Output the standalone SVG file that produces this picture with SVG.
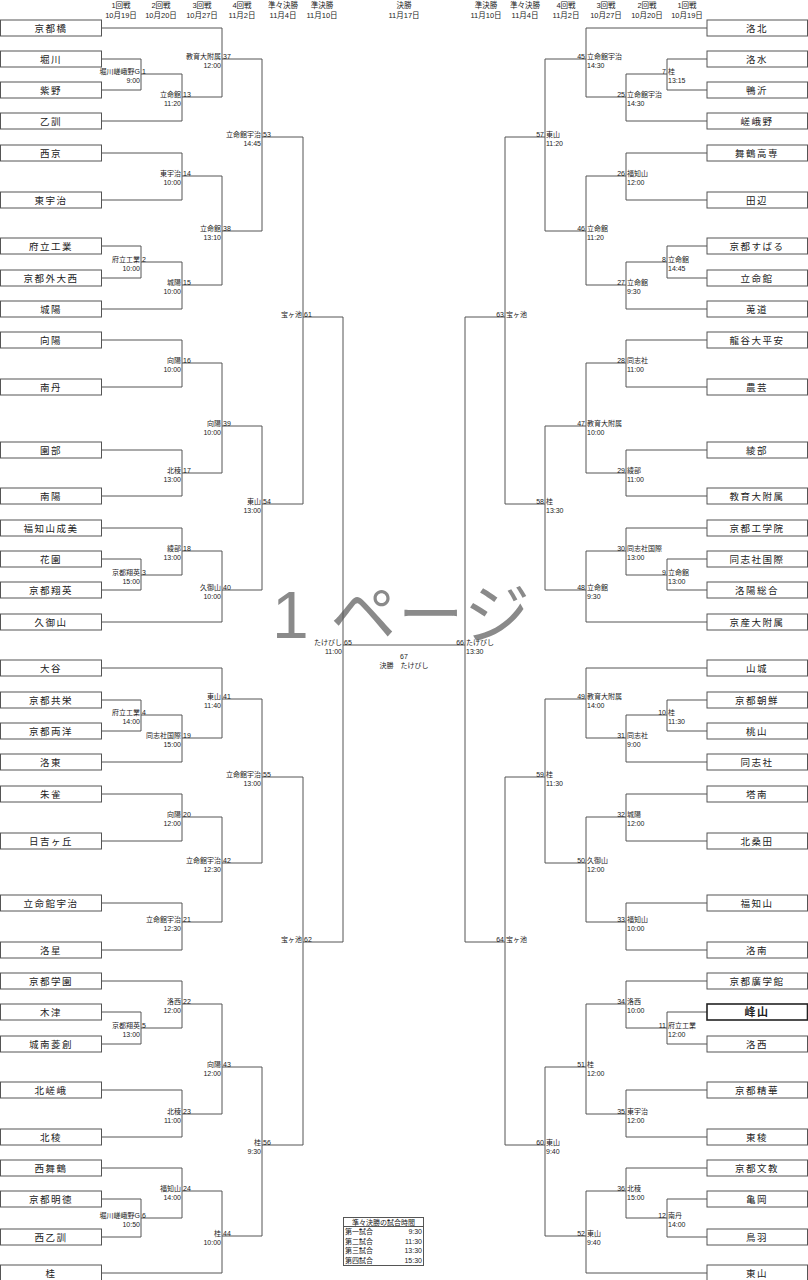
<svg xmlns="http://www.w3.org/2000/svg" width="808" height="1280" viewBox="0 0 808 1280">
<style>
text{font-family:"Liberation Sans","Noto Sans CJK JP",sans-serif;fill:#222}
.b rect{fill:#fff;stroke:#555;stroke-width:1}
.b text{font-size:9.5px;text-anchor:middle;letter-spacing:1.5px}
.h{font-size:7.5px;text-anchor:middle}
.m{font-size:7px}
.e{text-anchor:end}
#conn path{fill:none;stroke:#555;stroke-width:1}
.wm{font-size:66px;fill:#8a8a8a;text-anchor:middle}
</style>
<g id="headers">
<text class="h" x="121" y="8">1回戦</text><text class="h" x="121" y="18">10月19日</text>
<text class="h" x="161" y="8">2回戦</text><text class="h" x="161" y="18">10月20日</text>
<text class="h" x="202" y="8">3回戦</text><text class="h" x="202" y="18">10月27日</text>
<text class="h" x="242" y="8">4回戦</text><text class="h" x="242" y="18">11月2日</text>
<text class="h" x="283" y="8">準々決勝</text><text class="h" x="283" y="18">11月4日</text>
<text class="h" x="322" y="8">準決勝</text><text class="h" x="322" y="18">11月10日</text>
<text class="h" x="404" y="8">決勝</text><text class="h" x="404" y="18">11月17日</text>
<text class="h" x="486" y="8">準決勝</text><text class="h" x="486" y="18">11月10日</text>
<text class="h" x="525" y="8">準々決勝</text><text class="h" x="525" y="18">11月4日</text>
<text class="h" x="566" y="8">4回戦</text><text class="h" x="566" y="18">11月2日</text>
<text class="h" x="606" y="8">3回戦</text><text class="h" x="606" y="18">10月27日</text>
<text class="h" x="647" y="8">2回戦</text><text class="h" x="647" y="18">10月20日</text>
<text class="h" x="687" y="8">1回戦</text><text class="h" x="687" y="18">10月19日</text>
</g>
<text class="wm" x="401" y="638" textLength="258">1 ページ</text>
<g id="conn">
<path d="M101 59H141V90H101"/><path d="M141 74H182V121H101"/><path d="M101 28H222V97H182"/>
<path d="M101 153H182V200H101"/><path d="M101 246H141V278H101"/><path d="M141 262H182V309H101"/>
<path d="M182 176H222V285H182"/><path d="M222 59H262V231H222"/>
<path d="M101 340H182V387H101"/><path d="M101 450H182V496H101"/><path d="M182 363H222V473H182"/>
<path d="M101 559H141V590H101"/><path d="M101 528H182V575H141"/><path d="M182 551H222V622H101"/>
<path d="M222 426H262V590H222"/><path d="M262 137H303V504H262"/>
<path d="M101 700H141V731H101"/><path d="M141 715H182V762H101"/><path d="M101 668H222V738H182"/>
<path d="M101 794H182V841H101"/><path d="M101 903H182V950H101"/><path d="M182 817H222V922H182"/>
<path d="M222 699H262V863H222"/>
<path d="M101 1012H141V1044H101"/><path d="M101 981H182V1028H141"/><path d="M101 1090H182V1137H101"/>
<path d="M182 1004H222V1114H182"/><path d="M101 1199H141V1237H101"/><path d="M101 1168H182V1218H141"/>
<path d="M182 1191H222V1273H101"/><path d="M222 1067H262V1236H222"/><path d="M262 777H303V1145H262"/>
<path d="M303 317H343V942H303"/>
<path d="M343 645H465"/>
<path d="M707 59H667V90H707"/><path d="M667 74H626V121H707"/><path d="M707 28H586V97H626"/>
<path d="M707 153H626V200H707"/><path d="M707 246H667V278H707"/><path d="M667 262H626V309H707"/>
<path d="M626 176H586V285H626"/><path d="M586 59H545V231H586"/>
<path d="M707 340H626V387H707"/><path d="M707 450H626V496H707"/><path d="M626 363H586V473H626"/>
<path d="M707 559H667V590H707"/><path d="M707 528H626V575H667"/><path d="M626 551H586V622H707"/>
<path d="M586 426H545V590H586"/><path d="M545 137H505V504H545"/>
<path d="M707 700H667V731H707"/><path d="M667 715H626V762H707"/><path d="M707 668H586V738H626"/>
<path d="M707 794H626V841H707"/><path d="M707 903H626V950H707"/><path d="M626 817H586V922H626"/>
<path d="M586 699H545V863H586"/>
<path d="M707 1012H667V1044H707"/><path d="M707 981H626V1028H667"/><path d="M707 1090H626V1137H707"/>
<path d="M626 1004H586V1114H626"/><path d="M707 1199H667V1237H707"/><path d="M707 1168H626V1218H667"/>
<path d="M626 1191H586V1273H707"/><path d="M586 1067H545V1236H586"/><path d="M545 777H505V1145H545"/>
<path d="M505 317H465V942H505"/>
</g>
<g id="teams-left" class="b">
<g id="t-l1"><rect x="0.5" y="20" width="101" height="16"/><text x="51" y="31.5">京都橋</text></g>
<g id="t-l2"><rect x="0.5" y="51" width="101" height="16"/><text x="51" y="62.5">堀川</text></g>
<g id="t-l3"><rect x="0.5" y="82" width="101" height="16"/><text x="51" y="93.5">紫野</text></g>
<g id="t-l4"><rect x="0.5" y="113" width="101" height="16"/><text x="51" y="124.5">乙訓</text></g>
<g id="t-l5"><rect x="0.5" y="145" width="101" height="16"/><text x="51" y="156.5">西京</text></g>
<g id="t-l6"><rect x="0.5" y="192" width="101" height="16"/><text x="51" y="203.5">東宇治</text></g>
<g id="t-l7"><rect x="0.5" y="238" width="101" height="16"/><text x="51" y="249.5">府立工業</text></g>
<g id="t-l8"><rect x="0.5" y="270" width="101" height="16"/><text x="51" y="281.5">京都外大西</text></g>
<g id="t-l9"><rect x="0.5" y="301" width="101" height="16"/><text x="51" y="312.5">城陽</text></g>
<g id="t-l10"><rect x="0.5" y="332" width="101" height="16"/><text x="51" y="343.5">向陽</text></g>
<g id="t-l11"><rect x="0.5" y="379" width="101" height="16"/><text x="51" y="390.5">南丹</text></g>
<g id="t-l12"><rect x="0.5" y="442" width="101" height="16"/><text x="51" y="453.5">園部</text></g>
<g id="t-l13"><rect x="0.5" y="488" width="101" height="16"/><text x="51" y="499.5">南陽</text></g>
<g id="t-l14"><rect x="0.5" y="520" width="101" height="16"/><text x="51" y="531.5">福知山成美</text></g>
<g id="t-l15"><rect x="0.5" y="551" width="101" height="16"/><text x="51" y="562.5">花園</text></g>
<g id="t-l16"><rect x="0.5" y="582" width="101" height="16"/><text x="51" y="593.5">京都翔英</text></g>
<g id="t-l17"><rect x="0.5" y="614" width="101" height="16"/><text x="51" y="625.5">久御山</text></g>
<g id="t-l18"><rect x="0.5" y="660" width="101" height="16"/><text x="51" y="671.5">大谷</text></g>
<g id="t-l19"><rect x="0.5" y="692" width="101" height="16"/><text x="51" y="703.5">京都共栄</text></g>
<g id="t-l20"><rect x="0.5" y="723" width="101" height="16"/><text x="51" y="734.5">京都両洋</text></g>
<g id="t-l21"><rect x="0.5" y="754" width="101" height="16"/><text x="51" y="765.5">洛東</text></g>
<g id="t-l22"><rect x="0.5" y="786" width="101" height="16"/><text x="51" y="797.5">朱雀</text></g>
<g id="t-l23"><rect x="0.5" y="833" width="101" height="16"/><text x="51" y="844.5">日吉ヶ丘</text></g>
<g id="t-l24"><rect x="0.5" y="895" width="101" height="16"/><text x="51" y="906.5">立命館宇治</text></g>
<g id="t-l25"><rect x="0.5" y="942" width="101" height="16"/><text x="51" y="953.5">洛星</text></g>
<g id="t-l26"><rect x="0.5" y="973" width="101" height="16"/><text x="51" y="984.5">京都学園</text></g>
<g id="t-l27"><rect x="0.5" y="1004" width="101" height="16"/><text x="51" y="1015.5">木津</text></g>
<g id="t-l28"><rect x="0.5" y="1036" width="101" height="16"/><text x="51" y="1047.5">城南菱創</text></g>
<g id="t-l29"><rect x="0.5" y="1082" width="101" height="16"/><text x="51" y="1093.5">北嵯峨</text></g>
<g id="t-l30"><rect x="0.5" y="1129" width="101" height="16"/><text x="51" y="1140.5">北稜</text></g>
<g id="t-l31"><rect x="0.5" y="1160" width="101" height="16"/><text x="51" y="1171.5">西舞鶴</text></g>
<g id="t-l32"><rect x="0.5" y="1191" width="101" height="16"/><text x="51" y="1202.5">京都明徳</text></g>
<g id="t-l33"><rect x="0.5" y="1229" width="101" height="16"/><text x="51" y="1240.5">西乙訓</text></g>
<g id="t-l34"><rect x="0.5" y="1265" width="101" height="16"/><text x="51" y="1276.5">桂</text></g>
</g>
<g id="teams-right" class="b">
<g id="t-r1"><rect x="707" y="20" width="100.5" height="16"/><text x="757" y="31.5">洛北</text></g>
<g id="t-r2"><rect x="707" y="51" width="100.5" height="16"/><text x="757" y="62.5">洛水</text></g>
<g id="t-r3"><rect x="707" y="82" width="100.5" height="16"/><text x="757" y="93.5">鴨沂</text></g>
<g id="t-r4"><rect x="707" y="113" width="100.5" height="16"/><text x="757" y="124.5">嵯峨野</text></g>
<g id="t-r5"><rect x="707" y="145" width="100.5" height="16"/><text x="757" y="156.5">舞鶴高専</text></g>
<g id="t-r6"><rect x="707" y="192" width="100.5" height="16"/><text x="757" y="203.5">田辺</text></g>
<g id="t-r7"><rect x="707" y="238" width="100.5" height="16"/><text x="757" y="249.5">京都すばる</text></g>
<g id="t-r8"><rect x="707" y="270" width="100.5" height="16"/><text x="757" y="281.5">立命館</text></g>
<g id="t-r9"><rect x="707" y="301" width="100.5" height="16"/><text x="757" y="312.5">莵道</text></g>
<g id="t-r10"><rect x="707" y="332" width="100.5" height="16"/><text x="757" y="343.5">龍谷大平安</text></g>
<g id="t-r11"><rect x="707" y="379" width="100.5" height="16"/><text x="757" y="390.5">農芸</text></g>
<g id="t-r12"><rect x="707" y="442" width="100.5" height="16"/><text x="757" y="453.5">綾部</text></g>
<g id="t-r13"><rect x="707" y="488" width="100.5" height="16"/><text x="757" y="499.5">教育大附属</text></g>
<g id="t-r14"><rect x="707" y="520" width="100.5" height="16"/><text x="757" y="531.5">京都工学院</text></g>
<g id="t-r15"><rect x="707" y="551" width="100.5" height="16"/><text x="757" y="562.5">同志社国際</text></g>
<g id="t-r16"><rect x="707" y="582" width="100.5" height="16"/><text x="757" y="593.5">洛陽総合</text></g>
<g id="t-r17"><rect x="707" y="614" width="100.5" height="16"/><text x="757" y="625.5">京産大附属</text></g>
<g id="t-r18"><rect x="707" y="660" width="100.5" height="16"/><text x="757" y="671.5">山城</text></g>
<g id="t-r19"><rect x="707" y="692" width="100.5" height="16"/><text x="757" y="703.5">京都朝鮮</text></g>
<g id="t-r20"><rect x="707" y="723" width="100.5" height="16"/><text x="757" y="734.5">桃山</text></g>
<g id="t-r21"><rect x="707" y="754" width="100.5" height="16"/><text x="757" y="765.5">同志社</text></g>
<g id="t-r22"><rect x="707" y="786" width="100.5" height="16"/><text x="757" y="797.5">塔南</text></g>
<g id="t-r23"><rect x="707" y="833" width="100.5" height="16"/><text x="757" y="844.5">北桑田</text></g>
<g id="t-r24"><rect x="707" y="895" width="100.5" height="16"/><text x="757" y="906.5">福知山</text></g>
<g id="t-r25"><rect x="707" y="942" width="100.5" height="16"/><text x="757" y="953.5">洛南</text></g>
<g id="t-r26"><rect x="707" y="973" width="100.5" height="16"/><text x="757" y="984.5">京都廣学館</text></g>
<g id="t-r27"><rect x="707" y="1004" width="100.5" height="16" style="stroke:#222;stroke-width:1.6"/><text x="757" y="1016" style="font-weight:bold;font-size:11px">峰山</text></g>
<g id="t-r28"><rect x="707" y="1036" width="100.5" height="16"/><text x="757" y="1047.5">洛西</text></g>
<g id="t-r29"><rect x="707" y="1082" width="100.5" height="16"/><text x="757" y="1093.5">京都精華</text></g>
<g id="t-r30"><rect x="707" y="1129" width="100.5" height="16"/><text x="757" y="1140.5">東稜</text></g>
<g id="t-r31"><rect x="707" y="1160" width="100.5" height="16"/><text x="757" y="1171.5">京都文教</text></g>
<g id="t-r32"><rect x="707" y="1191" width="100.5" height="16"/><text x="757" y="1202.5">亀岡</text></g>
<g id="t-r33"><rect x="707" y="1229" width="100.5" height="16"/><text x="757" y="1240.5">鳥羽</text></g>
<g id="t-r34"><rect x="707" y="1265" width="100.5" height="16"/><text x="757" y="1276.5">東山</text></g>
</g>
<g id="matches-left" class="m">
<g id="m1"><text class="e" x="140" y="74">堀川嵯峨野G</text><text x="142" y="74">1</text><text class="e" x="140" y="83">9:00</text></g>
<g id="m13"><text class="e" x="181" y="97">立命館</text><text x="183" y="97">13</text><text class="e" x="181" y="106">11:20</text></g>
<g id="m37"><text class="e" x="221" y="59">教育大附属</text><text x="223" y="59">37</text><text class="e" x="221" y="68">12:00</text></g>
<g id="m14"><text class="e" x="181" y="176">東宇治</text><text x="183" y="176">14</text><text class="e" x="181" y="185">10:00</text></g>
<g id="m2"><text class="e" x="140" y="262">府立工業</text><text x="142" y="262">2</text><text class="e" x="140" y="271">10:00</text></g>
<g id="m15"><text class="e" x="181" y="285">城陽</text><text x="183" y="285">15</text><text class="e" x="181" y="294">10:00</text></g>
<g id="m38"><text class="e" x="221" y="231">立命館</text><text x="223" y="231">38</text><text class="e" x="221" y="240">13:10</text></g>
<g id="m53"><text class="e" x="261" y="137">立命館宇治</text><text x="263" y="137">53</text><text class="e" x="261" y="146">14:45</text></g>
<g id="m16"><text class="e" x="181" y="363">向陽</text><text x="183" y="363">16</text><text class="e" x="181" y="372">10:00</text></g>
<g id="m17"><text class="e" x="181" y="473">北稜</text><text x="183" y="473">17</text><text class="e" x="181" y="482">13:00</text></g>
<g id="m39"><text class="e" x="221" y="426">向陽</text><text x="223" y="426">39</text><text class="e" x="221" y="435">10:00</text></g>
<g id="m3"><text class="e" x="140" y="575">京都翔英</text><text x="142" y="575">3</text><text class="e" x="140" y="584">15:00</text></g>
<g id="m18"><text class="e" x="181" y="551">綾部</text><text x="183" y="551">18</text><text class="e" x="181" y="560">13:00</text></g>
<g id="m40"><text class="e" x="221" y="590">久御山</text><text x="223" y="590">40</text><text class="e" x="221" y="599">10:00</text></g>
<g id="m54"><text class="e" x="261" y="504">東山</text><text x="263" y="504">54</text><text class="e" x="261" y="513">13:00</text></g>
<g id="m61"><text class="e" x="302" y="317">宝ヶ池</text><text x="304" y="317">61</text></g>
<g id="m4"><text class="e" x="140" y="715">府立工業</text><text x="142" y="715">4</text><text class="e" x="140" y="724">14:00</text></g>
<g id="m19"><text class="e" x="181" y="738">同志社国際</text><text x="183" y="738">19</text><text class="e" x="181" y="747">15:00</text></g>
<g id="m41"><text class="e" x="221" y="699">東山</text><text x="223" y="699">41</text><text class="e" x="221" y="708">11:40</text></g>
<g id="m20"><text class="e" x="181" y="817">向陽</text><text x="183" y="817">20</text><text class="e" x="181" y="826">12:00</text></g>
<g id="m21"><text class="e" x="181" y="922">立命館宇治</text><text x="183" y="922">21</text><text class="e" x="181" y="931">12:30</text></g>
<g id="m42"><text class="e" x="221" y="863">立命館宇治</text><text x="223" y="863">42</text><text class="e" x="221" y="872">12:30</text></g>
<g id="m55"><text class="e" x="261" y="777">立命館宇治</text><text x="263" y="777">55</text><text class="e" x="261" y="786">13:00</text></g>
<g id="m5"><text class="e" x="140" y="1028">京都翔英</text><text x="142" y="1028">5</text><text class="e" x="140" y="1037">13:00</text></g>
<g id="m22"><text class="e" x="181" y="1004">洛西</text><text x="183" y="1004">22</text><text class="e" x="181" y="1013">12:00</text></g>
<g id="m23"><text class="e" x="181" y="1114">北稜</text><text x="183" y="1114">23</text><text class="e" x="181" y="1123">11:00</text></g>
<g id="m43"><text class="e" x="221" y="1067">向陽</text><text x="223" y="1067">43</text><text class="e" x="221" y="1076">12:00</text></g>
<g id="m6"><text class="e" x="140" y="1218">堀川嵯峨野G</text><text x="142" y="1218">6</text><text class="e" x="140" y="1227">10:50</text></g>
<g id="m24"><text class="e" x="181" y="1191">福知山</text><text x="183" y="1191">24</text><text class="e" x="181" y="1200">14:00</text></g>
<g id="m44"><text class="e" x="221" y="1236">桂</text><text x="223" y="1236">44</text><text class="e" x="221" y="1245">10:00</text></g>
<g id="m56"><text class="e" x="261" y="1145">桂</text><text x="263" y="1145">56</text><text class="e" x="261" y="1154">9:30</text></g>
<g id="m62"><text class="e" x="302" y="942">宝ヶ池</text><text x="304" y="942">62</text></g>
<g id="m65"><text class="e" x="342" y="645">たけびし</text><text x="344" y="645">65</text><text class="e" x="342" y="654">11:00</text></g>
</g>
<g id="matches-right" class="m">
<g id="m7"><text class="e" x="666" y="74">7</text><text x="668" y="74">桂</text><text x="668" y="83">13:15</text></g>
<g id="m25"><text class="e" x="625" y="97">25</text><text x="627" y="97">立命館宇治</text><text x="627" y="106">14:30</text></g>
<g id="m45"><text class="e" x="585" y="59">45</text><text x="587" y="59">立命館宇治</text><text x="587" y="68">14:30</text></g>
<g id="m26"><text class="e" x="625" y="176">26</text><text x="627" y="176">福知山</text><text x="627" y="185">12:00</text></g>
<g id="m8"><text class="e" x="666" y="262">8</text><text x="668" y="262">立命館</text><text x="668" y="271">14:45</text></g>
<g id="m27"><text class="e" x="625" y="285">27</text><text x="627" y="285">立命館</text><text x="627" y="294">9:30</text></g>
<g id="m46"><text class="e" x="585" y="231">46</text><text x="587" y="231">立命館</text><text x="587" y="240">11:20</text></g>
<g id="m57"><text class="e" x="544" y="137">57</text><text x="546" y="137">東山</text><text x="546" y="146">11:20</text></g>
<g id="m28"><text class="e" x="625" y="363">28</text><text x="627" y="363">同志社</text><text x="627" y="372">11:00</text></g>
<g id="m29"><text class="e" x="625" y="473">29</text><text x="627" y="473">綾部</text><text x="627" y="482">11:00</text></g>
<g id="m47"><text class="e" x="585" y="426">47</text><text x="587" y="426">教育大附属</text><text x="587" y="435">10:00</text></g>
<g id="m9"><text class="e" x="666" y="575">9</text><text x="668" y="575">立命館</text><text x="668" y="584">13:00</text></g>
<g id="m30"><text class="e" x="625" y="551">30</text><text x="627" y="551">同志社国際</text><text x="627" y="560">13:00</text></g>
<g id="m48"><text class="e" x="585" y="590">48</text><text x="587" y="590">立命館</text><text x="587" y="599">9:30</text></g>
<g id="m58"><text class="e" x="544" y="504">58</text><text x="546" y="504">桂</text><text x="546" y="513">13:30</text></g>
<g id="m63"><text class="e" x="504" y="317">63</text><text x="506" y="317">宝ヶ池</text></g>
<g id="m10"><text class="e" x="666" y="715">10</text><text x="668" y="715">桂</text><text x="668" y="724">11:30</text></g>
<g id="m31"><text class="e" x="625" y="738">31</text><text x="627" y="738">同志社</text><text x="627" y="747">9:00</text></g>
<g id="m49"><text class="e" x="585" y="699">49</text><text x="587" y="699">教育大附属</text><text x="587" y="708">14:00</text></g>
<g id="m32"><text class="e" x="625" y="817">32</text><text x="627" y="817">城陽</text><text x="627" y="826">12:00</text></g>
<g id="m33"><text class="e" x="625" y="922">33</text><text x="627" y="922">福知山</text><text x="627" y="931">10:00</text></g>
<g id="m50"><text class="e" x="585" y="863">50</text><text x="587" y="863">久御山</text><text x="587" y="872">12:00</text></g>
<g id="m59"><text class="e" x="544" y="777">59</text><text x="546" y="777">桂</text><text x="546" y="786">11:30</text></g>
<g id="m11"><text class="e" x="666" y="1028">11</text><text x="668" y="1028">府立工業</text><text x="668" y="1037">12:00</text></g>
<g id="m34"><text class="e" x="625" y="1004">34</text><text x="627" y="1004">洛西</text><text x="627" y="1013">10:00</text></g>
<g id="m35"><text class="e" x="625" y="1114">35</text><text x="627" y="1114">東宇治</text><text x="627" y="1123">12:00</text></g>
<g id="m51"><text class="e" x="585" y="1067">51</text><text x="587" y="1067">桂</text><text x="587" y="1076">12:00</text></g>
<g id="m12"><text class="e" x="666" y="1218">12</text><text x="668" y="1218">南丹</text><text x="668" y="1227">14:00</text></g>
<g id="m36"><text class="e" x="625" y="1191">36</text><text x="627" y="1191">北稜</text><text x="627" y="1200">15:00</text></g>
<g id="m52"><text class="e" x="585" y="1236">52</text><text x="587" y="1236">東山</text><text x="587" y="1245">9:40</text></g>
<g id="m60"><text class="e" x="544" y="1145">60</text><text x="546" y="1145">東山</text><text x="546" y="1154">9:40</text></g>
<g id="m64"><text class="e" x="504" y="942">64</text><text x="506" y="942">宝ヶ池</text></g>
<g id="m66"><text class="e" x="464" y="645">66</text><text x="466" y="645">たけびし</text><text x="466" y="654">13:30</text></g>
</g>
<g id="m67" class="m"><text x="404" y="659" text-anchor="middle">67</text><text x="404" y="668" text-anchor="middle">決勝　たけびし</text></g>
<g id="schedule" class="m">
<rect x="343.5" y="1217.5" width="80" height="48" fill="#fff" stroke="#555"/>
<line x1="343.5" y1="1226.5" x2="423.5" y2="1226.5" stroke="#555"/>
<text x="383.5" y="1224.5" text-anchor="middle">準々決勝の試合時間</text>
<text x="345" y="1234">第一試合</text><text class="e" x="422" y="1234">9:30</text>
<text x="345" y="1244">第二試合</text><text class="e" x="422" y="1244">11:30</text>
<text x="345" y="1253">第三試合</text><text class="e" x="422" y="1253">13:30</text>
<text x="345" y="1263">第四試合</text><text class="e" x="422" y="1263">15:30</text>
</g>
</svg>
